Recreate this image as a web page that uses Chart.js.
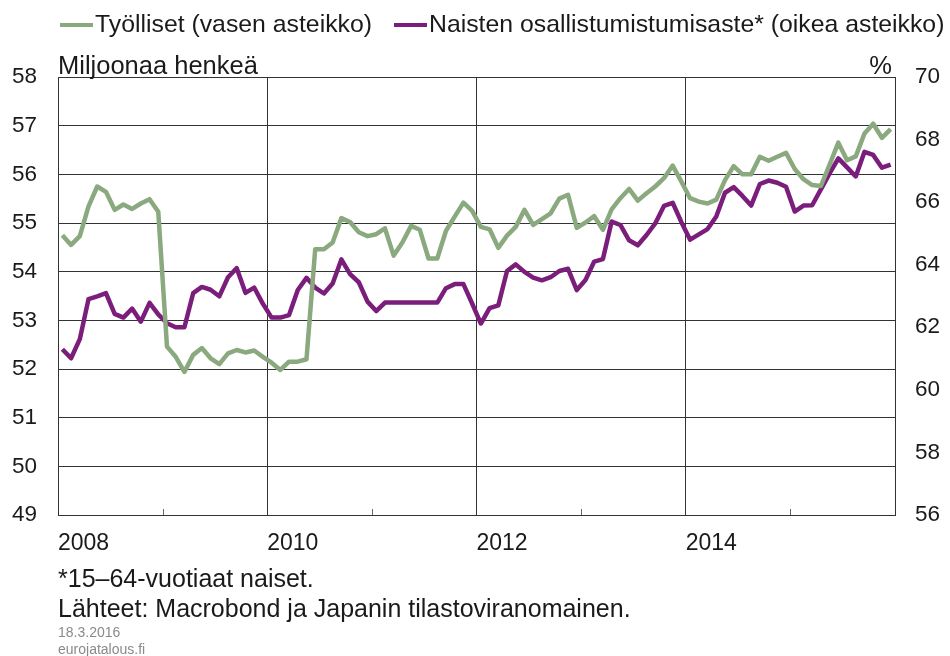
<!DOCTYPE html>
<html>
<head>
<meta charset="utf-8">
<script src="https://cdn.jsdelivr.net/npm/chart.js@4.4.1/dist/chart.umd.min.js"></script>
<style>
  html, body { margin: 0; padding: 0; background: #fff; }
  #wrap { width: 950px; height: 656px; }
</style>
</head>
<body>
<div id="wrap"><canvas id="chart" width="950" height="656"></canvas></div>
<script>
// Vuodet ja kuukausittaiset havainnot (tammi 2008 - joulu 2015)
const years = [2008, 2009, 2010, 2011, 2012, 2013, 2014, 2015];
const xLabelYears = [2008, 2010, 2012, 2014];

// Työlliset, miljoonaa henkeä (vasen asteikko)
const tyolliset = [
  54.75, 54.55, 54.73, 55.34, 55.75, 55.64, 55.27, 55.38, 55.29, 55.40, 55.49, 55.23,
  52.46, 52.25, 51.94, 52.29, 52.43, 52.22, 52.10, 52.32, 52.39, 52.34, 52.38, 52.25,
  52.13, 51.98, 52.15, 52.15, 52.20, 54.46, 54.46, 54.60, 55.10, 55.02, 54.81, 54.73,
  54.77, 54.89, 54.33, 54.60, 54.94, 54.86, 54.27, 54.27, 54.84, 55.13, 55.42, 55.25,
  54.92, 54.87, 54.49, 54.74, 54.92, 55.27, 54.96, 55.08, 55.20, 55.50, 55.58, 54.90,
  55.01, 55.14, 54.86, 55.28, 55.51, 55.70, 55.46, 55.61, 55.75, 55.92, 56.18, 55.85,
  55.51, 55.44, 55.40, 55.48, 55.88, 56.17, 56.00, 56.00, 56.36, 56.28, 56.36, 56.44,
  56.11, 55.90, 55.78, 55.76, 56.20, 56.65, 56.29, 56.37, 56.84, 57.04, 56.75, 56.93
];

// Naisten osallistumisaste, % (oikea asteikko)
const naistenOsallistumisaste = [
  61.30, 61.01, 61.62, 62.90, 62.99, 63.09, 62.43, 62.31, 62.60, 62.18, 62.78, 62.41,
  62.13, 62.00, 62.00, 63.09, 63.29, 63.20, 62.99, 63.60, 63.89, 63.10, 63.27, 62.75,
  62.31, 62.31, 62.39, 63.19, 63.58, 63.27, 63.08, 63.40, 64.17, 63.70, 63.44, 62.82,
  62.52, 62.79, 62.79, 62.79, 62.79, 62.79, 62.79, 62.79, 63.25, 63.38, 63.38, 62.76,
  62.12, 62.61, 62.70, 63.80, 64.01, 63.77, 63.59, 63.50, 63.60, 63.80, 63.87, 63.19,
  63.51, 64.10, 64.18, 65.38, 65.27, 64.78, 64.62, 64.95, 65.32, 65.88, 65.98, 65.36,
  64.80, 64.97, 65.14, 65.54, 66.30, 66.48, 66.20, 65.89, 66.58, 66.69, 66.62, 66.49,
  65.70, 65.89, 65.90, 66.41, 66.92, 67.40, 67.11, 66.82, 67.61, 67.51, 67.10, 67.20
];

const leftAxisLabel = 'Miljoonaa henkeä';
const rightAxisLabel = '%';
const footnotes = ['*15–64-vuotiaat naiset.', 'Lähteet: Macrobond ja Japanin tilastoviranomainen.'];
const smallPrint = ['18.3.2016', 'eurojatalous.fi'];

const GREEN = '#8aa97e';
const PURPLE = '#7b1e7b';
const TEXT = '#1a1a1a';
const GRID = '#333333';
const FONT = '"Liberation Sans", Arial, sans-serif';

Chart.defaults.font.family = FONT;
Chart.defaults.color = TEXT;

// kuukauden keskikohta vuoden desimaalina
const monthX = [];
years.forEach(y => { for (let m = 0; m < 12; m++) monthX.push(y + (m + 0.5) / 12); });

const toPoints = values => values.map((v, i) => ({ x: monthX[i], y: v }));

// Legenda, yksikkötekstit, lähteet ja pienet väkäset
const annotations = {
  id: 'annotations',
  afterDraw(chart) {
    const { ctx, chartArea: a, scales } = chart;
    ctx.save();

    // väkäset parittomille vuosille akselin sisäpuolelle
    ctx.strokeStyle = '#666';
    ctx.lineWidth = 1;
    years.filter(y => y % 2 === 1).forEach(y => {
      const px = Math.round(scales.x.getPixelForValue(y)) + 0.5;
      ctx.beginPath();
      ctx.moveTo(px, a.bottom);
      ctx.lineTo(px, a.bottom - 6);
      ctx.stroke();
    });

    // legenda
    ctx.font = '24.8px ' + FONT;
    ctx.textBaseline = 'middle';
    ctx.textAlign = 'left';
    let lx = 60;
    chart.data.datasets.forEach(ds => {
      ctx.strokeStyle = ds.borderColor;
      ctx.lineWidth = 4;
      ctx.beginPath();
      ctx.moveTo(lx, 25);
      ctx.lineTo(lx + 33, 25);
      ctx.stroke();
      ctx.fillStyle = TEXT;
      ctx.fillText(ds.label, lx + 35, 25);
      lx += 35 + ctx.measureText(ds.label).width + 22;
    });

    // akselien yksiköt
    ctx.font = '25.5px ' + FONT;
    ctx.textBaseline = 'alphabetic';
    ctx.fillText(leftAxisLabel, a.left, a.top - 3);
    ctx.textAlign = 'right';
    ctx.fillText(rightAxisLabel, a.right - 3, a.top - 3);

    // alaviitteet
    ctx.font = '25px ' + FONT;
    ctx.textAlign = 'left';
    ctx.fillText(footnotes[0], a.left, 587);
    ctx.fillText(footnotes[1], a.left, 617);
    ctx.font = '14px ' + FONT;
    ctx.fillStyle = '#8a8a8a';
    ctx.fillText(smallPrint[0], a.left, 637);
    ctx.fillText(smallPrint[1], a.left, 654);

    ctx.restore();
  }
};

new Chart(document.getElementById('chart'), {
  type: 'line',
  data: {
    datasets: [{
      label: 'Työlliset (vasen asteikko)',
      data: toPoints(tyolliset),
      yAxisID: 'y',
      borderColor: GREEN,
      borderWidth: 4.5,
      pointRadius: 0,
      tension: 0,
      borderJoinStyle: 'round'
    }, {
      label: 'Naisten osallistumistumisaste* (oikea asteikko)',
      data: toPoints(naistenOsallistumisaste),
      yAxisID: 'y1',
      borderColor: PURPLE,
      borderWidth: 4.5,
      pointRadius: 0,
      tension: 0,
      borderJoinStyle: 'round'
    }]
  },
  options: {
    responsive: false,
    animation: false,
    layout: { padding: { top: 77, bottom: 101, left: 0, right: 0 } },
    plugins: {
      legend: { display: false },
      tooltip: { enabled: false }
    },
    scales: {
      x: {
        type: 'linear',
        min: 2008,
        max: 2016,
        afterFit: s => { s.height = 40; },
        border: { display: false },
        grid: {
          drawTicks: false,
          lineWidth: 1,
          color: c => (c.tick && c.tick.value % 2 === 0) ? GRID : 'rgba(0,0,0,0)'
        },
        ticks: {
          stepSize: 1,
          autoSkip: false,
          maxRotation: 0,
          align: 'start',
          padding: 15,
          font: { size: 23 },
          color: TEXT,
          callback: v => xLabelYears.includes(v) ? String(v) : ''
        }
      },
      y: {
        position: 'left',
        min: 49,
        max: 58,
        afterFit: s => { s.width = 58; },
        border: { display: true, color: GRID },
        grid: { drawTicks: false, color: GRID, lineWidth: 1 },
        ticks: { stepSize: 1, padding: 21, font: { size: 22.5 }, color: TEXT }
      },
      y1: {
        position: 'right',
        min: 56,
        max: 70,
        afterFit: s => { s.width = 55; },
        border: { display: true, color: GRID },
        grid: { drawTicks: false, drawOnChartArea: false },
        ticks: { stepSize: 2, padding: 20, font: { size: 22.5 }, color: TEXT }
      }
    }
  },
  plugins: [annotations]
});
</script>
</body>
</html>
